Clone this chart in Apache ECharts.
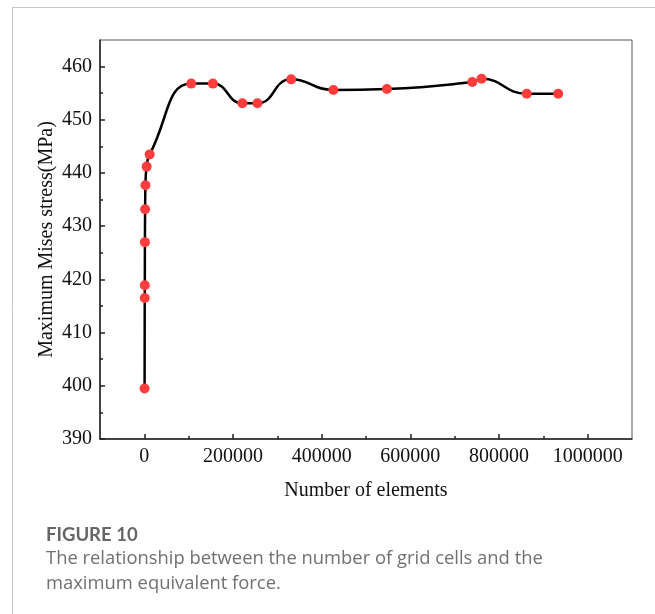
<!DOCTYPE html>
<html>
<head>
<meta charset="utf-8">
<script src="https://cdn.jsdelivr.net/npm/echarts@6/dist/echarts.min.js"></script>
<style>
html,body{margin:0;padding:0;background:#fff;}
#chart{width:655px;height:614px;}
</style>
</head>
<body>
<div id="chart"></div>
<script>
// Data
const elementCounts = [600, 900, 1100, 1300, 1800, 2500, 5200, 12000, 105700, 154700, 221200, 255100, 331300, 426400, 547200, 739700, 760700, 862600, 933500];
const misesStress = [399.5, 416.5, 418.9, 427.0, 433.2, 437.7, 441.2, 443.5, 456.8, 456.8, 453.1, 453.1, 457.6, 455.6, 455.8, 457.1, 457.7, 454.9, 454.9];
const xTickLabels = [0, 200000, 400000, 600000, 800000, 1000000];
const xMinorTicks = [100000, 300000, 500000, 700000, 900000];
const yTickLabels = [390, 400, 410, 420, 430, 440, 450, 460];
const yMinorTicks = [395, 405, 415, 425, 435, 445, 455];
const xTitle = 'Number of elements';
const yTitle = 'Maximum Mises stress(MPa)';
const captionHead = 'FIGURE 10';
const captionLines = ['The relationship between the number of grid cells and the', 'maximum equivalent force.'];

const points = elementCounts.map((x, i) => [x, misesStress[i]]);
const serif = '"Liberation Serif", "Times New Roman", serif';

const chart = echarts.init(document.getElementById('chart'), null, {renderer: 'canvas'});
const gridRect = {left: 100, top: 40, width: 532, height: 399};
const plain = v => String(v);

chart.setOption({
  animation: false,
  backgroundColor: '#fff',
  grid: Object.assign({show: true, borderColor: '#555', borderWidth: 1, backgroundColor: 'transparent'}, gridRect),
  xAxis: [{
    type: 'value', min: -100000, max: 1100000,
    name: xTitle, nameLocation: 'middle', nameGap: 42, nameMoveOverlap: false,
    nameTextStyle: {fontFamily: serif, fontSize: 20, color: '#111'},
    axisLine: {show: true, onZero: false, lineStyle: {color: '#222', width: 1.5}},
    axisTick: {show: true, inside: true, length: 5, customValues: xTickLabels, lineStyle: {color: '#222', width: 1.5}},
    axisLabel: {customValues: xTickLabels, formatter: plain, fontFamily: serif, fontSize: 20, color: '#111', margin: 8},
    splitLine: {show: false}
  }, {
    type: 'value', min: -100000, max: 1100000, position: 'bottom',
    axisLine: {show: false, onZero: false},
    axisTick: {show: true, inside: true, length: 3, customValues: xMinorTicks, lineStyle: {color: '#222', width: 1.5}},
    axisLabel: {show: false}, splitLine: {show: false}
  }],
  yAxis: [{
    type: 'value', min: 390, max: 465,
    name: yTitle, nameLocation: 'middle', nameGap: 43, nameRotate: 90, nameMoveOverlap: false,
    nameTextStyle: {fontFamily: serif, fontSize: 20, color: '#111'},
    axisLine: {show: true, onZero: false, lineStyle: {color: '#222', width: 1.5}},
    axisTick: {show: true, inside: true, length: 5, customValues: yTickLabels, lineStyle: {color: '#222', width: 1.5}},
    axisLabel: {customValues: yTickLabels, formatter: plain, fontFamily: serif, fontSize: 20, color: '#111', margin: 8},
    splitLine: {show: false}
  }, {
    type: 'value', min: 390, max: 465, position: 'left',
    axisLine: {show: false, onZero: false},
    axisTick: {show: true, inside: true, length: 3, customValues: yMinorTicks, lineStyle: {color: '#222', width: 1.5}},
    axisLabel: {show: false}, splitLine: {show: false}
  }],
  series: [{
    type: 'line',
    data: points,
    smooth: 0.5,
    symbol: 'circle',
    symbolSize: 10,
    lineStyle: {color: '#000', width: 2.5},
    itemStyle: {color: '#ff3d3d'},
    z: 3
  }],
  graphic: [
    {type: 'line', shape: {x1: 13, y1: 7.5, x2: 655, y2: 7.5}, style: {stroke: '#c8c8c8', lineWidth: 1}},
    {type: 'line', shape: {x1: 12.5, y1: 7, x2: 12.5, y2: 614}, style: {stroke: '#c8c8c8', lineWidth: 1}},
    {type: 'text', x: 46, y: 535, style: {text: captionHead, font: 'bold 18.5px Lato, "Open Sans", sans-serif', fill: '#666', textVerticalAlign: 'middle'}},
    {type: 'text', x: 46, y: 559, style: {text: captionLines[0], font: '18.4px "Open Sans", Lato, sans-serif', fill: '#707070', textVerticalAlign: 'middle'}},
    {type: 'text', x: 46, y: 584, style: {text: captionLines[1], font: '18.4px "Open Sans", Lato, sans-serif', fill: '#707070', textVerticalAlign: 'middle'}}
  ]
});
</script>
</body>
</html>
